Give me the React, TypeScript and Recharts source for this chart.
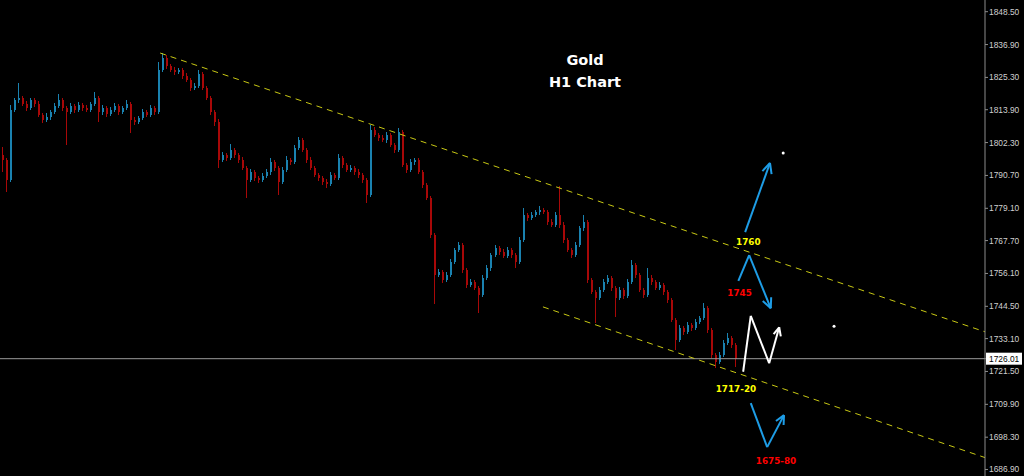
import React from 'react';
import {
  ComposedChart,
  Bar,
  XAxis,
  YAxis,
  ReferenceLine,
  ReferenceDot,
} from 'recharts';

// H1 closes, read left to right off the chart
const closes = [
  1796.2, 1789.1, 1813.8, 1817.3, 1818.0, 1815.9, 1814.5, 1817.3, 1815.9, 1812.0,
  1810.3, 1811.3, 1813.1, 1815.2, 1817.3, 1814.5, 1813.1, 1815.2, 1813.8, 1815.6,
  1814.5, 1813.8, 1815.9, 1818.0, 1813.1, 1814.5, 1812.4, 1813.8, 1815.2, 1813.1,
  1814.5, 1815.9, 1810.3, 1809.6, 1811.0, 1813.1, 1812.0, 1814.5, 1813.1, 1827.9,
  1832.2, 1829.3, 1827.9, 1827.2, 1827.9, 1825.8, 1824.4, 1821.6, 1822.3, 1826.5,
  1821.6, 1818.0, 1813.1, 1809.6, 1796.2, 1797.9, 1796.9, 1799.7, 1797.9, 1796.2,
  1793.3, 1789.1, 1791.9, 1789.8, 1789.1, 1790.5, 1791.9, 1795.4, 1793.3, 1788.4,
  1792.6, 1796.2, 1795.4, 1800.4, 1803.2, 1799.7, 1796.2, 1793.3, 1790.9, 1789.8,
  1788.4, 1787.7, 1790.9, 1789.8, 1796.9, 1794.4, 1792.6, 1793.3, 1791.9, 1790.9,
  1789.1, 1783.8, 1806.7, 1805.0, 1803.9, 1803.2, 1805.0, 1801.4, 1799.7, 1806.0,
  1794.4, 1792.6, 1795.4, 1796.2, 1791.9, 1787.3, 1782.7, 1769.7, 1755.6, 1756.6,
  1753.8, 1755.6, 1760.1, 1764.4, 1766.2, 1757.3, 1752.0, 1753.1, 1751.0, 1748.5,
  1754.5, 1758.0, 1762.6, 1765.1, 1763.7, 1762.3, 1764.4, 1762.6, 1760.1, 1767.9,
  1776.7, 1775.7, 1776.7, 1777.8, 1778.5, 1777.8, 1774.3, 1773.2, 1776.7, 1773.2,
  1767.9, 1764.4, 1762.6, 1766.2, 1772.1, 1774.3, 1753.8, 1749.6, 1747.4, 1750.3,
  1753.1, 1754.5, 1751.0, 1747.4, 1750.3, 1748.1, 1753.1, 1759.1, 1755.6, 1750.3,
  1748.5, 1754.5, 1753.1, 1751.0, 1752.0, 1749.6, 1746.7, 1739.7, 1732.6, 1736.8,
  1735.4, 1737.9, 1736.8, 1739.0, 1740.4, 1743.9, 1736.1, 1727.3, 1724.8, 1727.3,
  1731.6, 1733.3, 1730.9, 1726.01,
];
const firstOpen = 1797.9;

// wick length above / below the body of each candle
const wickUp = [
  2.8, 0.6, 1.8, 0.9, 5.3, 0.7, 1.2, 0.8, 0.6, 1.0, 0.7, 1.3, 0.6, 0.9, 2.1, 0.8, 0.7, 1.1, 0.6, 0.9,
  0.7, 1.0, 0.8, 2.2, 0.6, 1.2, 0.7, 0.9, 1.1, 0.6, 0.8, 1.4, 0.7, 0.9, 0.6, 1.0, 0.8, 1.2, 0.7, 2.8,
  1.7, 0.9, 0.7, 1.1, 0.8, 0.6, 1.0, 0.7, 0.9, 1.4, 0.8, 0.6, 0.9, 0.7, 1.0, 1.2, 0.7, 2.1, 0.8, 0.6,
  0.9, 0.7, 1.1, 0.8, 0.6, 1.0, 0.9, 1.3, 0.7, 0.8, 1.0, 1.2, 0.7, 0.9, 1.1, 0.8, 0.6, 0.9, 0.7, 0.8,
  0.6, 0.9, 1.0, 0.7, 1.4, 0.8, 0.6, 1.1, 0.7, 0.9, 0.8, 0.6, 1.8, 1.0, 0.7, 0.9, 1.2, 0.7, 0.8, 1.4,
  0.9, 0.7, 1.0, 0.7, 0.8, 0.6, 0.9, 0.7, 0.8, 1.1, 0.7, 0.9, 1.0, 0.8, 1.0, 0.7, 0.6, 1.0, 0.8, 0.7,
  0.9, 1.1, 0.8, 1.2, 0.7, 0.9, 1.0, 0.7, 0.8, 1.0, 2.5, 0.9, 1.1, 0.7, 1.4, 0.8, 0.7, 0.9, 1.2, 10.3,
  0.9, 0.7, 0.8, 1.0, 0.9, 2.4, 0.7, 0.8, 0.6, 1.0, 0.9, 1.1, 0.7, 0.8, 1.0, 0.7, 0.9, 1.7, 0.8, 0.7,
  0.6, 3.5, 0.9, 0.7, 1.0, 0.8, 0.7, 0.6, 0.8, 1.0, 0.7, 0.9, 0.8, 1.0, 0.7, 1.8, 0.8, 0.6, 0.7, 0.9,
  1.0, 1.8, 0.7, 0.8,
];
const wickDn = [
  4.3, 4.2, 0.6, 0.8, 1.0, 0.7, 0.9, 0.6, 1.1, 0.8, 1.2, 0.7, 0.9, 0.6, 0.8, 1.0, 11.7, 0.7, 0.9, 0.6,
  1.0, 0.8, 0.7, 0.6, 3.5, 0.9, 1.1, 0.7, 0.8, 1.0, 0.6, 0.8, 4.6, 1.2, 0.7, 0.9, 0.8, 0.6, 1.0, 0.7,
  0.8, 1.0, 0.7, 0.9, 0.6, 1.1, 0.8, 1.2, 0.7, 0.6, 0.9, 0.8, 1.0, 1.3, 2.9, 0.8, 1.1, 0.7, 0.9, 1.0,
  0.8, 6.4, 0.7, 1.0, 1.2, 0.8, 0.7, 0.9, 1.1, 4.6, 0.8, 0.7, 1.0, 0.8, 0.6, 0.9, 1.1, 0.7, 0.8, 1.0,
  0.9, 1.4, 0.7, 0.8, 0.6, 1.0, 0.8, 0.7, 0.9, 1.0, 1.2, 2.8, 0.7, 0.8, 1.0, 0.7, 0.9, 0.8, 1.1, 0.6,
  0.8, 1.0, 0.7, 0.9, 0.8, 1.0, 0.7, 1.2, 10.3, 0.8, 1.0, 0.7, 0.9, 0.6, 0.8, 1.0, 1.1, 0.7, 0.9, 6.4,
  0.8, 0.7, 0.9, 0.6, 1.0, 0.8, 0.7, 0.9, 2.1, 0.8, 0.7, 1.0, 0.8, 0.6, 0.9, 0.7, 1.1, 0.8, 0.7, 0.9,
  1.0, 0.8, 1.2, 0.7, 0.6, 0.9, 1.0, 0.8, 8.8, 0.7, 0.9, 0.8, 1.0, 6.7, 0.8, 0.9, 0.7, 0.6, 1.0, 0.8,
  1.1, 0.7, 0.9, 0.8, 0.7, 1.0, 0.9, 0.8, 3.5, 0.7, 0.9, 0.8, 1.0, 0.7, 0.8, 0.6, 1.0, 0.9, 2.1, 0.8,
  0.7, 0.9, 1.0, 2.9,
];

const yTicks = [
  1848.5, 1836.9, 1825.3, 1813.9, 1802.3, 1790.7, 1779.1, 1767.7,
  1756.1, 1744.5, 1733.1, 1721.5, 1709.9, 1698.3, 1686.9,
];
const lastPrice = 1726.01;

// channel lines [slot, price]
const upperChannel = [[39.5, 1833.9], [245.5, 1735.5]];
const lowerChannel = [[135.1, 1744.3], [245.5, 1691.1]];

// projection arrows [slot, price]
const blueArrows = [
  [[185.6, 1770.7], [191.8, 1795.1]],
  [[189.9, 1792.2], [191.8, 1795.1], [192.2, 1791.2]],
  [[183.9, 1753.5], [186.6, 1762.6], [192.0, 1743.8]],
  [[190.0, 1746.4], [192.0, 1743.8], [192.1, 1747.7]],
  [[187.0, 1710.3], [191.1, 1694.8], [195.3, 1706.1]],
  [[193.3, 1704.0], [195.3, 1706.1], [195.2, 1702.6]],
];
const whiteArrows = [
  [[185.1, 1721.4], [187.0, 1741.1], [191.6, 1724.4], [194.1, 1737.1]],
  [[192.7, 1734.7], [194.1, 1737.1], [194.5, 1733.9]],
];
const levelLabels = [
  { text: '1760', s: 186.4, p: 1767.3, color: '#ffff00' },
  { text: '1745', s: 184.2, p: 1749.4, color: '#ff0000' },
  { text: '1717-20', s: 183.3, p: 1715.5, color: '#ffff00' },
  { text: '1675-80', s: 193.3, p: 1689.9, color: '#ff0000' },
];
const marks = [[195.1, 1798.6], [207.8, 1737.5]];

const SLOTS = 246;
const UP = '#1a82b0';
const DOWN = '#a80808';

const rows = Array.from({ length: SLOTS }, (_, i) => {
  if (i >= closes.length) return { i };
  const open = i === 0 ? firstOpen : closes[i - 1];
  const close = closes[i];
  const high = Math.max(open, close) + wickUp[i];
  const low = Math.min(open, close) - wickDn[i];
  return { i, open, close, high, low, range: [low, high] };
});

const Candle = (props: any) => {
  const { x, y, width, height, payload } = props;
  if (!payload || payload.high == null || !isFinite(y) || !isFinite(height)) return null;
  const top = Math.min(y, y + height);
  const h = Math.abs(height);
  const k = h / (payload.high - payload.low || 1);
  const cx = Math.round(x + width / 2);
  const yo = top + (payload.high - payload.open) * k;
  const yc = top + (payload.high - payload.close) * k;
  const color = payload.close >= payload.open ? UP : DOWN;
  return (
    <g shapeRendering="crispEdges">
      <line x1={cx + 0.5} x2={cx + 0.5} y1={top} y2={top + h} stroke={color} strokeWidth={1} />
      <rect x={cx} y={Math.min(yo, yc)} width={2} height={Math.max(1, Math.abs(yc - yo))} fill={color} />
    </g>
  );
};

const PriceTick = (props: any) => {
  const { x, y, payload } = props;
  const v = payload.value;
  const font = { fontFamily: '"Liberation Sans", Arial, sans-serif', fontSize: 8.4 };
  if (v === lastPrice) {
    return (
      <g>
        <rect x={x - 3} y={y - 6} width={36} height={12} fill="#ffffff" />
        <text x={x} y={y + 3} fill="#000000" {...font}>{v.toFixed(2)}</text>
      </g>
    );
  }
  return <text x={x} y={y + 3} fill="#d0d0d0" {...font}>{v.toFixed(2)}</text>;
};

const segs = (path: number[][]) =>
  path.slice(1).map((pt, k) => [path[k], pt]);

export default function App() {
  return (
    <div style={{ position: 'absolute', left: 0, top: 0, width: 1024, height: 476, background: '#000' }}>
      <ComposedChart
        width={1024}
        height={476}
        data={rows}
        margin={{ top: 0, right: 0, bottom: 0, left: 0 }}
        barCategoryGap={0}
      >
        <XAxis dataKey="i" type="category" hide />
        <XAxis xAxisId="t" dataKey="i" type="number" domain={[-0.5, SLOTS - 0.5]} hide allowDataOverflow />
        <YAxis
          orientation="right"
          width={39}
          domain={[1684.6, 1852.63]}
          ticks={[...yTicks, lastPrice]}
          interval={0}
          allowDataOverflow
          tickSize={3}
          tickMargin={1}
          axisLine={{ stroke: '#8c8c8c' }}
          tickLine={{ stroke: '#8c8c8c' }}
          tick={<PriceTick />}
        />
        <ReferenceLine y={lastPrice} stroke="#9a9a9a" strokeWidth={1} />
        <Bar dataKey="range" shape={Candle} isAnimationActive={false} />
        {[upperChannel, lowerChannel].map((ln, n) => (
          <ReferenceLine
            key={'ch' + n}
            xAxisId="t"
            segment={[{ x: ln[0][0], y: ln[0][1] }, { x: ln[1][0], y: ln[1][1] }]}
            stroke="#c8c814"
            strokeDasharray="6 5"
            strokeWidth={1}
            ifOverflow="visible"
          />
        ))}
        {blueArrows.flatMap((path, n) =>
          segs(path).map(([a, b], k) => (
            <ReferenceLine
              key={`b${n}-${k}`}
              xAxisId="t"
              segment={[{ x: a[0], y: a[1] }, { x: b[0], y: b[1] }]}
              stroke="#1e9de6"
              strokeWidth={2}
              ifOverflow="visible"
            />
          ))
        )}
        {whiteArrows.flatMap((path, n) =>
          segs(path).map(([a, b], k) => (
            <ReferenceLine
              key={`w${n}-${k}`}
              xAxisId="t"
              segment={[{ x: a[0], y: a[1] }, { x: b[0], y: b[1] }]}
              stroke="#ffffff"
              strokeWidth={2}
              ifOverflow="visible"
            />
          ))
        )}
        {levelLabels.map((l) => (
          <ReferenceDot
            key={l.text}
            xAxisId="t"
            x={l.s}
            y={l.p}
            r={0}
            fill="none"
            stroke="none"
            ifOverflow="visible"
            label={{
              value: l.text,
              position: 'center',
              fill: l.color,
              fontSize: 8.8,
              fontWeight: 'bold',
              fontFamily: '"DejaVu Sans", sans-serif',
            }}
          />
        ))}
        {marks.map((m, n) => (
          <ReferenceDot key={'m' + n} xAxisId="t" x={m[0]} y={m[1]} r={1.5} fill="#ffffff" stroke="none" />
        ))}
      </ComposedChart>
      <div
        style={{
          position: 'absolute',
          left: 535,
          top: 49,
          width: 100,
          textAlign: 'center',
          color: '#fff',
          fontFamily: '"DejaVu Sans", sans-serif',
          fontWeight: 'bold',
          fontSize: 14.5,
          lineHeight: '22px',
        }}
      >
        Gold
        <br />
        H1 Chart
      </div>
    </div>
  );
}
